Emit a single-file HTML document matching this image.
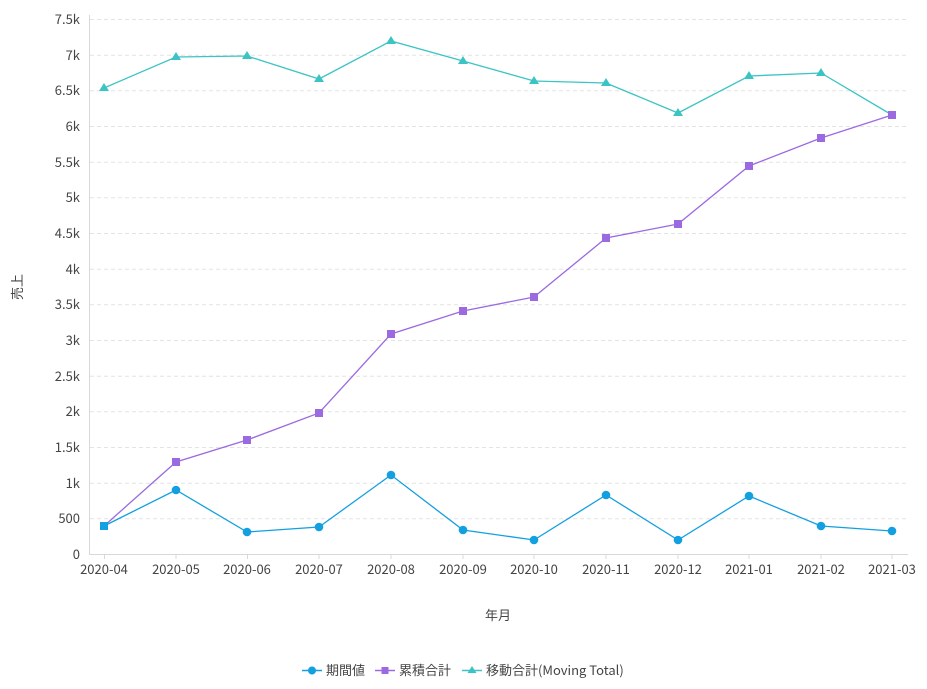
<!DOCTYPE html>
<html><head><meta charset="utf-8"><style>
body{margin:0;background:#fff;}
svg{display:block;font-family:"Noto Sans CJK JP","Liberation Sans",sans-serif;}
</style></head><body>
<svg width="927" height="689" xmlns="http://www.w3.org/2000/svg">
<g stroke="#e3e3e3" stroke-dasharray="4,3" stroke-width="1">
<line x1="90" x2="908" y1="19.5" y2="19.5"/><line x1="90" x2="908" y1="55.2" y2="55.2"/><line x1="90" x2="908" y1="90.8" y2="90.8"/><line x1="90" x2="908" y1="126.5" y2="126.5"/><line x1="90" x2="908" y1="162.2" y2="162.2"/><line x1="90" x2="908" y1="197.8" y2="197.8"/><line x1="90" x2="908" y1="233.5" y2="233.5"/><line x1="90" x2="908" y1="269.2" y2="269.2"/><line x1="90" x2="908" y1="304.8" y2="304.8"/><line x1="90" x2="908" y1="340.5" y2="340.5"/><line x1="90" x2="908" y1="376.2" y2="376.2"/><line x1="90" x2="908" y1="411.8" y2="411.8"/><line x1="90" x2="908" y1="447.5" y2="447.5"/><line x1="90" x2="908" y1="483.2" y2="483.2"/><line x1="90" x2="908" y1="518.8" y2="518.8"/>
</g>
<line x1="89.5" x2="89.5" y1="15" y2="554" stroke="#d8d8d8"/>
<line x1="89" x2="908" y1="554.5" y2="554.5" stroke="#d8d8d8"/>
<g font-size="13" fill="#444" text-anchor="end">
<text x="80" y="24">7.5k</text><text x="80" y="60">7k</text><text x="80" y="95">6.5k</text><text x="80" y="131">6k</text><text x="80" y="167">5.5k</text><text x="80" y="202">5k</text><text x="80" y="238">4.5k</text><text x="80" y="274">4k</text><text x="80" y="309">3.5k</text><text x="80" y="345">3k</text><text x="80" y="381">2.5k</text><text x="80" y="416">2k</text><text x="80" y="452">1.5k</text><text x="80" y="488">1k</text><text x="80" y="523">500</text><text x="80" y="559">0</text>
</g>
<g stroke="#d8d8d8"><line x1="104.5" x2="104.5" y1="554" y2="559"/><line x1="176" x2="176" y1="554" y2="559"/><line x1="247.5" x2="247.5" y1="554" y2="559"/><line x1="319" x2="319" y1="554" y2="559"/><line x1="391" x2="391" y1="554" y2="559"/><line x1="463" x2="463" y1="554" y2="559"/><line x1="534" x2="534" y1="554" y2="559"/><line x1="606" x2="606" y1="554" y2="559"/><line x1="678" x2="678" y1="554" y2="559"/><line x1="749" x2="749" y1="554" y2="559"/><line x1="821" x2="821" y1="554" y2="559"/><line x1="892" x2="892" y1="554" y2="559"/></g>
<g font-size="13" fill="#444" text-anchor="middle">
<text x="104" y="574">2020-04</text><text x="176" y="574">2020-05</text><text x="247" y="574">2020-06</text><text x="319" y="574">2020-07</text><text x="391" y="574">2020-08</text><text x="463" y="574">2020-09</text><text x="534" y="574">2020-10</text><text x="606" y="574">2020-11</text><text x="678" y="574">2020-12</text><text x="749" y="574">2021-01</text><text x="821" y="574">2021-02</text><text x="892" y="574">2021-03</text>
<text x="498" y="620">年月</text>
</g>
<text x="22" y="287" font-size="13" fill="#444" text-anchor="middle" transform="rotate(-90 22 287)">売上</text>
<polyline fill="none" stroke="#3cc4c4" stroke-width="1.3" points="104,88 176,57 247,56 319,79 391,41 463,61 534,81 606,83 678,113 749,76 821,73 892,115"/>
<g fill="#3cc4c4"><path d="M104,83l5,8h-10z"/><path d="M176,52l5,8h-10z"/><path d="M247,51l5,8h-10z"/><path d="M319,74l5,8h-10z"/><path d="M391,36l5,8h-10z"/><path d="M463,56l5,8h-10z"/><path d="M534,76l5,8h-10z"/><path d="M606,78l5,8h-10z"/><path d="M678,108l5,8h-10z"/><path d="M749,71l5,8h-10z"/><path d="M821,68l5,8h-10z"/></g>
<polyline fill="none" stroke="#9b6ae0" stroke-width="1.3" points="104,526 176,462 247,440 319,413 391,334 463,311 534,297 606,238 678,224 749,166 821,138 892,115"/>
<g fill="#9b6ae0"><rect x="100" y="522" width="8" height="8"/><rect x="172" y="458" width="8" height="8"/><rect x="243" y="436" width="8" height="8"/><rect x="315" y="409" width="8" height="8"/><rect x="387" y="330" width="8" height="8"/><rect x="459" y="307" width="8" height="8"/><rect x="530" y="293" width="8" height="8"/><rect x="602" y="234" width="8" height="8"/><rect x="674" y="220" width="8" height="8"/><rect x="745" y="162" width="8" height="8"/><rect x="817" y="134" width="8" height="8"/><rect x="888" y="111" width="8" height="8"/></g>
<polyline fill="none" stroke="#12a0e0" stroke-width="1.3" points="104,526 176,490 247,532 319,527 391,475 463,530 534,540 606,495 678,540 749,496 821,526 892,531"/>
<g fill="#12a0e0"><rect x="100" y="522" width="8" height="8"/><circle cx="176" cy="490" r="4.3"/><circle cx="247" cy="532" r="4.3"/><circle cx="319" cy="527" r="4.3"/><circle cx="391" cy="475" r="4.3"/><circle cx="463" cy="530" r="4.3"/><circle cx="534" cy="540" r="4.3"/><circle cx="606" cy="495" r="4.3"/><circle cx="678" cy="540" r="4.3"/><circle cx="749" cy="496" r="4.3"/><circle cx="821" cy="526" r="4.3"/><circle cx="892" cy="531" r="4.3"/></g>
<g font-size="13" fill="#444">
<line x1="302" x2="322" y1="670.5" y2="670.5" stroke="#12a0e0" stroke-width="1.5"/><circle cx="312" cy="670.5" r="4" fill="#12a0e0"/><text x="326" y="675">期間値</text>
<line x1="375" x2="395" y1="670.5" y2="670.5" stroke="#9b6ae0" stroke-width="1.5"/><rect x="381.5" y="667" width="7" height="7" fill="#9b6ae0"/><text x="399" y="675">累積合計</text>
<line x1="462" x2="482" y1="670.5" y2="670.5" stroke="#3cc4c4" stroke-width="1.5"/><path d="M472,666l4.5,7h-9z" fill="#3cc4c4"/><text x="486" y="675">移動合計(Moving Total)</text>
</g>
</svg>
</body></html>
